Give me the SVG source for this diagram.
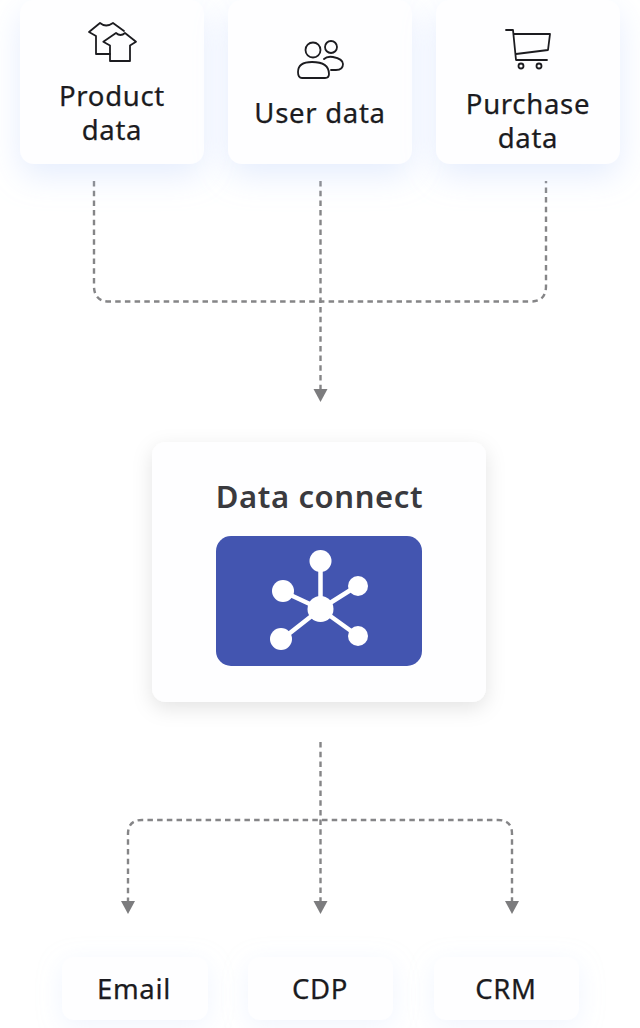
<svg xmlns="http://www.w3.org/2000/svg" width="640" height="1028" viewBox="0 0 640 1028">
<style>
text{font-family:"Noto Sans","Open Sans",sans-serif;font-size:27.500px;font-weight:400;fill:#1b1b20;text-anchor:middle;letter-spacing:.7px;stroke:#1b1b20;stroke-width:.25px}
.title{font-weight:600;font-size:31px;fill:#3a3a3e;letter-spacing:.6px;stroke:none}
.card{fill:#fefeff}
.ic{fill:none;stroke:#1c1c20;stroke-width:1.8;stroke-linejoin:round;stroke-linecap:round}
.c{fill:none;stroke:#858587;stroke-width:2.400;stroke-dasharray:5.500 4.200}
.ah{fill:#7c7c7e}
.w{fill:#fff}
.wl{stroke:#fff;stroke-width:4.5;fill:none}
</style>
<defs>
<filter id="sb" x="-30%" y="-30%" width="160%" height="170%"><feDropShadow dx="0" dy="12" stdDeviation="16" flood-color="#c3d5fb" flood-opacity=".42"/></filter>
<filter id="sg" x="-20%" y="-20%" width="140%" height="140%"><feDropShadow dx="0" dy="6" stdDeviation="10" flood-color="#000" flood-opacity=".11"/></filter>
<filter id="ss" x="-30%" y="-50%" width="160%" height="200%"><feDropShadow dx="0" dy="6" stdDeviation="12" flood-color="#c6d6fa" flood-opacity=".25"/></filter>
</defs>
<rect width="640" height="1028" fill="#fff"/>
<g id="connectors">
<path class="c" d="M94 181V286Q94 301.500 109 301.500H531Q546 301.500 546 286V181"/>
<path class="c" d="M320.500 181V390"/>
<path class="c" d="M320.500 742V903"/>
<path class="c" d="M128 903V834Q128 820 142 820H498Q512 820 512 834V903"/>
<path class="ah" d="M313.500 389H327.500L320.500 402Z"/>
<path class="ah" d="M121 901H135L128 914Z"/>
<path class="ah" d="M313.500 901H327.500L320.500 914Z"/>
<path class="ah" d="M505 901H519L512 914Z"/>
</g>
<g id="product">
<rect class="card" x="20" y="0" width="184" height="164" rx="14" filter="url(#sb)"/>
<path class="ic" d="M110 54H96V36L89 32L100 23Q106 28 113 23L124 31"/>
<path class="ic" d="M116 33Q120.500 37 125 33L136 41.700L130 45.500V61H110V45.500L103.300 41.700Z"/>
<text x="112" y="106">Product</text><text x="112" y="140">data</text>
</g>
<g id="user">
<rect class="card" x="228" y="0" width="184" height="164" rx="14" filter="url(#sb)"/>
<circle class="ic" cx="313" cy="50" r="7.500"/><circle class="ic" cx="331" cy="47" r="6"/>
<path class="ic" d="M298 72Q298 62 312 62Q329 62 329 74Q329 78 325 78H302Q298 78 298 72Z"/>
<path class="ic" d="M324 59Q327 56 333 57Q343 59 343 64Q343 70 336 70H331"/>
<text x="320" y="123">User data</text>
</g>
<g id="purchase">
<rect class="card" x="436" y="0" width="184" height="164" rx="14" filter="url(#sb)"/>
<path class="ic" d="M506 30H513L516 60H547M514 34H550L548 50L516 54"/>
<circle class="ic" cx="521" cy="66" r="2.500"/><circle class="ic" cx="539" cy="66" r="2.500"/>
<text x="528" y="114">Purchase</text><text x="528" y="148">data</text>
</g>
<g id="data-connect">
<rect class="card" x="152" y="442" width="334" height="260" rx="14" filter="url(#sg)"/>
<text class="title" x="319.500" y="508">Data connect</text>
<rect x="216" y="536" width="206" height="130" rx="15" fill="#4355b0"/>
<path class="wl" d="M320.500 561V609L284 592M320.500 609L357 586M320.500 609L281 640M320.500 609L358 636"/>
<circle class="w" cx="320.500" cy="561" r="11"/><circle class="w" cx="283" cy="591" r="11"/><circle class="w" cx="358" cy="586" r="10"/><circle class="w" cx="281" cy="639" r="11"/><circle class="w" cx="358" cy="636" r="10"/><circle class="w" cx="320.500" cy="609" r="13"/>
</g>
<g id="email"><rect class="card" x="62" y="957" width="146" height="63" rx="12" filter="url(#ss)"/><text x="134" y="999">Email</text></g>
<g id="cdp"><rect class="card" x="248" y="957" width="145" height="63" rx="12" filter="url(#ss)"/><text x="320" y="999">CDP</text></g>
<g id="crm"><rect class="card" x="434" y="957" width="145" height="63" rx="12" filter="url(#ss)"/><text x="506" y="999">CRM</text></g>
</svg>
